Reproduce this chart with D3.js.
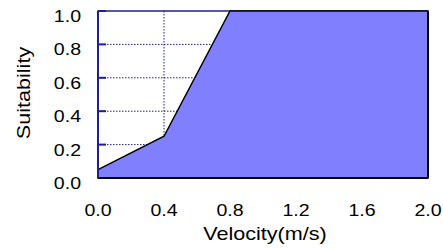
<!DOCTYPE html>
<html>
<head>
<meta charset="utf-8">
<script src="https://cdnjs.cloudflare.com/ajax/libs/d3/7.8.5/d3.min.js"></script>
<style>
  body { margin: 0; background: #fff; }
  svg { display: block; }
  text { font-family: "Liberation Sans", Arial, sans-serif; fill: #000; }
</style>
</head>
<body>
<div id="chart"></div>
<script>
"use strict";

var velocity = [0.0, 0.4, 0.8, 2.0];
var suitability = [0.05, 0.25, 1.0, 1.0];
var xTicks = [0.0, 0.4, 0.8, 1.2, 1.6, 2.0];
var yTicks = [0.0, 0.2, 0.4, 0.6, 0.8, 1.0];

var navy = '#1f1f8f';
var fillColor = '#8080ff';

var W = 443, H = 248;
var pL = 98, pR = 428, pT = 11, pB = 178;

var svg = d3.select('#chart').append('svg')
  .attr('width', W)
  .attr('height', H);

var x = d3.scaleLinear().domain([0, 2]).range([pL, pR]);
var y = d3.scaleLinear().domain([0, 1]).range([pB, pT]);

// dotted grid, drawn first so the fill covers it
svg.selectAll('.hgrid')
  .data(yTicks.filter(function(d) { return d > 0 && d < 1; }))
  .enter().append('line')
  .attr('x1', pL).attr('x2', pR)
  .attr('y1', function(d) { return y(d); })
  .attr('y2', function(d) { return y(d); })
  .attr('stroke', navy)
  .attr('stroke-width', 1)
  .attr('stroke-dasharray', '1.5,1.5');

svg.selectAll('.vgrid')
  .data(xTicks.filter(function(d) { return d > 0 && d < 2; }))
  .enter().append('line')
  .attr('y1', pT).attr('y2', pB)
  .attr('x1', function(d) { return x(d); })
  .attr('x2', function(d) { return x(d); })
  .attr('stroke', navy)
  .attr('stroke-width', 1)
  .attr('stroke-dasharray', '1.5,1.5');

// top of frame in navy
svg.append('line')
  .attr('x1', pL).attr('x2', pR).attr('y1', pT).attr('y2', pT)
  .attr('stroke', navy).attr('stroke-width', 1.5);

// filled area
var pts = velocity.map(function(v, i) { return [v, suitability[i]]; });
var area = d3.area()
  .x(function(d) { return x(d[0]); })
  .y0(y(0))
  .y1(function(d) { return y(d[1]); });

svg.append('path')
  .datum(pts)
  .attr('d', area)
  .attr('fill', fillColor)
  .attr('stroke', '#000')
  .attr('stroke-width', 1.5)
  .attr('stroke-linejoin', 'miter');

// bottom and right borders
svg.append('line')
  .attr('x1', pL).attr('x2', pR).attr('y1', pB).attr('y2', pB)
  .attr('stroke', '#000').attr('stroke-width', 2);
svg.append('line')
  .attr('x1', pR).attr('x2', pR).attr('y1', pT).attr('y2', pB)
  .attr('stroke', '#000').attr('stroke-width', 2);

// left axis with inward ticks
svg.append('line')
  .attr('x1', pL).attr('x2', pL).attr('y1', pT - 0.5).attr('y2', pB)
  .attr('stroke', navy).attr('stroke-width', 2);

svg.selectAll('.ytick')
  .data(yTicks.filter(function(d) { return d > 0; }))
  .enter().append('line')
  .attr('x1', pL).attr('x2', pL + 8)
  .attr('y1', function(d) { return y(d); })
  .attr('y2', function(d) { return y(d); })
  .attr('stroke', navy)
  .attr('stroke-width', 2);

// tick labels (the original font is a bit wider than Liberation Sans)
svg.selectAll('.ylab')
  .data(yTicks)
  .enter().append('text')
  .attr('transform', function(d) { return 'translate(81,' + (y(d) + 11) + ') scale(1.15,1)'; })
  .attr('text-anchor', 'end')
  .attr('font-size', 17)
  .text(function(d) { return d.toFixed(1); });

svg.selectAll('.xlab')
  .data(xTicks)
  .enter().append('text')
  .attr('transform', function(d) { return 'translate(' + x(d) + ',216) scale(1.15,1)'; })
  .attr('text-anchor', 'middle')
  .attr('font-size', 17)
  .text(function(d) { return d.toFixed(1); });

svg.append('text')
  .attr('transform', 'translate(265,240) scale(1.2,1)')
  .attr('text-anchor', 'middle')
  .attr('font-size', 18)
  .text('Velocity(m/s)');

svg.append('text')
  .attr('transform', 'translate(30,93) rotate(-90) scale(1.2,1)')
  .attr('text-anchor', 'middle')
  .attr('font-size', 18)
  .text('Suitability');
</script>
</body>
</html>
